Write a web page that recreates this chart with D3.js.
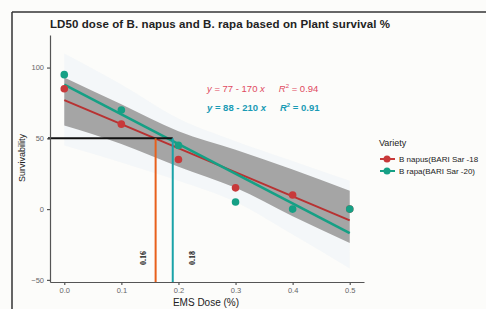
<!DOCTYPE html>
<html>
<head>
<meta charset="utf-8">
<script src="https://cdn.jsdelivr.net/npm/d3@7"></script>
<style>
  body { margin: 0; background: #fcfcfa; }
  svg { display: block; font-family: "Liberation Sans", Arial, sans-serif; }
  .axis path, .axis line { stroke: #555; stroke-width: 1.2; }
  .axis text { fill: #666; font-size: 7.5px; }
</style>
</head>
<body>
<svg width="486" height="309"></svg>
<script>
var doses = [0.0, 0.1, 0.2, 0.3, 0.4, 0.5];
var napus = [85, 60, 35, 15, 10, 0];
var rapa = [95, 70, 45, 5, 0, 0];
var varieties = ["B napus(BARI Sar -18", "B rapa(BARI Sar -20)"];
var colors = ["#c8393a", "#16a085"];
var intercepts = [77, 88];
var slopes = [-170, -210];
var equations = ["77 - 170", "88 - 210"];
var rsq = ["0.94", "0.91"];
// confidence band
var bandUpper = [93, 74, 55, 42, 28, 13];
var bandLower = [59, 46, 30, 15, -5, -24];
var outerUpper = [110, 88, 64, 48, 34, 20];
var outerLower = [45, 33, 20, 5, -18, -42];
var ld50Pos = [0.16, 0.19];
var ld50Labels = ["0.16", "0.18"];
var xTicks = [0, 0.1, 0.2, 0.3, 0.4, 0.5];
var yTicks = [-50, 0, 50, 100];

var svg = d3.select("svg");

var x = d3.scaleLinear().domain([-0.025, 0.525]).range([50, 364]);
var y = d3.scaleLinear().domain([-51.5, 123]).range([282, 35]);

// frame
svg.append("line").attr("x1", 12).attr("x2", 486).attr("y1", 12).attr("y2", 12)
    .attr("stroke", "#666").attr("stroke-width", 2);
svg.append("line").attr("x1", 12).attr("x2", 12).attr("y1", 12).attr("y2", 309)
    .attr("stroke", "#333").attr("stroke-width", 1.5);

svg.append("text").attr("x", 50).attr("y", 28)
    .style("font-size", "11.5px").style("font-weight", "bold").attr("fill", "#222")
    .attr("textLength", 340)
    .text("LD50 dose of B. napus and B. rapa based on Plant survival %");

var area = function(up, lo) {
  return d3.area()
    .x(function(d, i) { return x(doses[i]); })
    .y0(function(d, i) { return y(lo[i]); })
    .y1(function(d, i) { return y(up[i]); })
    .curve(d3.curveMonotoneX)(doses);
};

svg.append("path").attr("d", area(outerUpper, outerLower))
    .attr("fill", "#e6eef5").attr("opacity", 0.35);
svg.append("path").attr("d", area(bandUpper, bandLower))
    .attr("fill", "#a5a5a5");

// fitted lines
[0, 1].forEach(function(k) {
  svg.append("line")
      .attr("x1", x(0)).attr("y1", y(intercepts[k]))
      .attr("x2", x(0.5)).attr("y2", y(intercepts[k] + slopes[k] * 0.5))
      .attr("stroke", k == 0 ? "#b83232" : colors[1])
      .attr("stroke-width", k == 0 ? 2 : 2.6);
});

// points
[napus, rapa].forEach(function(vals, k) {
  svg.selectAll(".pt" + k).data(vals).enter().append("circle")
      .attr("cx", function(d, i) { return x(doses[i]); })
      .attr("cy", function(d) { return y(d); })
      .attr("r", 3.8)
      .attr("fill", colors[k]);
});

// LD50 guides
svg.append("line").attr("x1", 48).attr("x2", x(ld50Pos[1]))
    .attr("y1", y(50)).attr("y2", y(50))
    .attr("stroke", "#111").attr("stroke-width", 2);
var guideCols = ["#e8601c", "#1aa3a8"];
ld50Pos.forEach(function(p, k) {
  svg.append("line").attr("x1", x(p)).attr("x2", x(p))
      .attr("y1", y(50)).attr("y2", 282)
      .attr("stroke", guideCols[k]).attr("stroke-width", 2);
  svg.append("text")
      .attr("transform", "translate(" + (x(p) + (k == 0 ? -10 : 22)) + ",258) rotate(-90)")
      .attr("text-anchor", "middle")
      .style("font-family", "'Liberation Serif', serif")
      .style("font-size", "8px").style("font-weight", "bold").attr("fill", "#111")
      .text(ld50Labels[k]);
});

// axes
svg.append("g").attr("class", "axis")
    .attr("transform", "translate(50,0)")
    .call(d3.axisLeft(y).tickValues(yTicks).tickSize(3).tickSizeOuter(0));
svg.append("g").attr("class", "axis")
    .attr("transform", "translate(0,282)")
    .call(d3.axisBottom(x).tickValues(xTicks).tickSize(3).tickSizeOuter(0).tickFormat(d3.format(".1f")));

svg.append("text").attr("x", 206).attr("y", 306).attr("text-anchor", "middle")
    .style("font-size", "10px").attr("fill", "#222").text("EMS Dose (%)");
svg.append("text").attr("transform", "translate(25,158) rotate(-90)")
    .attr("text-anchor", "middle")
    .style("font-size", "9px").attr("fill", "#222").text("Survivability");

// equations
[0, 1].forEach(function(k) {
  var t = svg.append("text").attr("x", 207).attr("y", 92 + k * 19)
      .style("font-size", "9.5px").attr("fill", k == 0 ? "#e04a5e" : "#1a9bb5")
      .style("font-weight", k == 0 ? "normal" : "bold");
  t.append("tspan").style("font-style", "italic").text("y");
  t.append("tspan").text(" = " + equations[k] + " ");
  t.append("tspan").style("font-style", "italic").text("x");
  t.append("tspan").attr("dx", 14).style("font-style", "italic").text("R");
  t.append("tspan").attr("dy", -4).style("font-size", "6px").text("2");
  t.append("tspan").attr("dy", 4).text(" = " + rsq[k]);
});

// legend
svg.append("text").attr("x", 379).attr("y", 146)
    .style("font-size", "9px").attr("fill", "#222").text("Variety");
varieties.forEach(function(v, k) {
  var yy = 159 + k * 12;
  svg.append("line").attr("x1", 380).attr("x2", 395).attr("y1", yy).attr("y2", yy)
      .attr("stroke", colors[k]).attr("stroke-width", 2);
  svg.append("circle").attr("cx", 387).attr("cy", yy).attr("r", 3.5).attr("fill", colors[k]);
  svg.append("text").attr("x", 399).attr("y", yy + 3)
      .style("font-size", "8px").attr("fill", "#222").text(v);
});
</script>
</body>
</html>
